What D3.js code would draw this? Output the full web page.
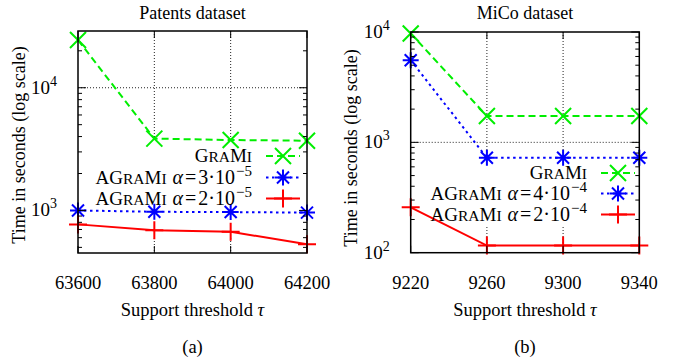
<!DOCTYPE html>
<html>
<head>
<meta charset="utf-8">
<script src="https://cdnjs.cloudflare.com/ajax/libs/d3/7.8.5/d3.min.js"></script>
<style>
  body { margin: 0; background: white; }
</style>
</head>
<body>
<script>
// data
var patentsSupport = [63600, 63800, 64000, 64200];
var patentsGrami = [24500, 3850, 3750, 3700];
var patentsAgramiHi = [1000, 975, 970, 960];   // alpha = 3e-5
var patentsAgramiLo = [770, 690, 670, 530];    // alpha = 2e-5
var patentsAlphas = [["3", "\u22125"], ["2", "\u22125"]];

var micoSupport = [9220, 9260, 9300, 9340];
var micoGrami = [9700, 1730, 1730, 1730];
var micoAgramiHi = [5550, 725, 725, 725];      // alpha = 4e-4
var micoAgramiLo = [258, 116, 116, 116];       // alpha = 2e-4
var micoAlphas = [["4", "\u22124"], ["2", "\u22124"]];

var seriesColors = ["#00ee00", "#0000ff", "#ff0000"];
var seriesDash = ["7,4", "2.5,3.5", null];
var seriesMarks = ["cross", "star", "plus"];

var svg = d3.select("body").append("svg")
  .attr("width", 679)
  .attr("height", 360)
  .attr("font-family", "Liberation Serif")
  .attr("fill", "black");

var markerPath = function (kind, x, y) {
  var p = d3.path();
  var s = 8;
  if (kind == "cross") {
    p.moveTo(x - s, y - s); p.lineTo(x + s, y + s);
    p.moveTo(x - s, y + s); p.lineTo(x + s, y - s);
  } else if (kind == "star") {
    p.moveTo(x - s, y); p.lineTo(x + s, y);
    p.moveTo(x, y - s); p.lineTo(x, y + s);
    p.moveTo(x - s * 0.75, y - s * 0.75); p.lineTo(x + s * 0.75, y + s * 0.75);
    p.moveTo(x - s * 0.75, y + s * 0.75); p.lineTo(x + s * 0.75, y - s * 0.75);
  } else {
    s = 9;
    p.moveTo(x - s, y); p.lineTo(x + s, y);
    p.moveTo(x, y - s); p.lineTo(x, y + s);
  }
  return p.toString();
}

// small caps by hand, like the LaTeX \textsc in the key
var addGrami = function (t) {
  t.append("tspan").text("G");
  t.append("tspan").attr("font-size", 15.5).text("RA");
  t.append("tspan").text("M");
  t.append("tspan").attr("font-size", 15.5).text("I");
}

var drawPanel = function ({
  left, right, top, bottom,
  support, yDomain, series, alphas,
  title, caption, yLabelX, yLabelY,
  legendRight, legendRows, maskTop, maskBottom
  } = {}) {

  var g = svg.append("g");
  var x = d3.scaleLinear().domain(d3.extent(support)).range([left, right]);
  var y = d3.scaleLog().domain(yDomain).range([bottom, top]);

  // grid
  var innerX = support.slice(1, -1);
  g.selectAll(".vgrid").data(innerX).enter().append("line")
    .attr("x1", d => x(d)).attr("x2", d => x(d))
    .attr("y1", top).attr("y2", bottom)
    .attr("stroke", "#222").attr("stroke-width", 1)
    .attr("stroke-dasharray", "1,2");

  var lo = Math.ceil(Math.log10(yDomain[0]));
  var hi = Math.floor(Math.log10(yDomain[1]));
  var majors = d3.range(lo, hi + 1).map(e => Math.pow(10, e));
  g.selectAll(".hgrid").data(majors.filter(v => y(v) > top + 1 && y(v) < bottom - 1)).enter().append("line")
    .attr("x1", left).attr("x2", right)
    .attr("y1", d => y(d)).attr("y2", d => y(d))
    .attr("stroke", "#222").attr("stroke-width", 1)
    .attr("stroke-dasharray", "1,2");

  // opaque key background
  g.append("rect")
    .attr("x", left + 1).attr("y", maskTop)
    .attr("width", right - left - 2).attr("height", maskBottom - maskTop)
    .attr("fill", "white");

  // series
  series.forEach(function (vals, si) {
    var pts = support.map((s, i) => [x(s), y(vals[i])]);
    g.append("path")
      .attr("d", d3.line()(pts))
      .attr("fill", "none")
      .attr("stroke", seriesColors[si])
      .attr("stroke-width", 2)
      .attr("stroke-dasharray", seriesDash[si]);
    g.selectAll(".m" + si).data(pts).enter().append("path")
      .attr("d", d => markerPath(seriesMarks[si], d[0], d[1]))
      .attr("stroke", seriesColors[si])
      .attr("stroke-width", 2)
      .attr("fill", "none");
  });

  // legend
  legendRows.forEach(function (ry, si) {
    var t = g.append("text")
      .attr("x", legendRight).attr("y", ry + 6)
      .attr("text-anchor", "end")
      .attr("font-size", 19);
    if (si > 0) t.append("tspan").text("A");
    addGrami(t);
    if (si > 0) {
      var a = alphas[si - 1];
      t.append("tspan").attr("font-style", "italic").attr("font-size", 20).attr("dx", 6).text("\u03b1");
      t.append("tspan").attr("font-size", 20).attr("dx", 2).text("=");
      t.append("tspan").attr("font-size", 20).attr("dx", 2).text(a[0] + "\u00b710");
      t.append("tspan").attr("font-size", 15).attr("dx", 1).attr("dy", -8).text(a[1]);
    }
    g.append("line")
      .attr("x1", legendRight + 14).attr("x2", legendRight + 48)
      .attr("y1", ry).attr("y2", ry)
      .attr("stroke", seriesColors[si]).attr("stroke-width", 2)
      .attr("stroke-dasharray", seriesDash[si]);
    g.append("path")
      .attr("d", markerPath(seriesMarks[si], legendRight + 31, ry))
      .attr("stroke", seriesColors[si]).attr("stroke-width", 2).attr("fill", "none");
  });

  // ticks
  var minors = [];
  for (var e = lo - 1; e <= hi; e++) {
    for (var k = 2; k <= 9; k++) {
      var v = k * Math.pow(10, e);
      if (v > yDomain[0] && v < yDomain[1]) minors.push(v);
    }
  }
  var tickLines = [];
  majors.forEach(v => { tickLines.push([left, y(v), left + 8, y(v)]); tickLines.push([right, y(v), right - 8, y(v)]); });
  minors.forEach(v => { tickLines.push([left, y(v), left + 4, y(v)]); tickLines.push([right, y(v), right - 4, y(v)]); });
  support.forEach(s => { tickLines.push([x(s), bottom, x(s), bottom - 7]); tickLines.push([x(s), top, x(s), top + 7]); });
  g.selectAll(".tick").data(tickLines).enter().append("line")
    .attr("x1", d => d[0]).attr("y1", d => d[1])
    .attr("x2", d => d[2]).attr("y2", d => d[3])
    .attr("stroke", "black").attr("stroke-width", 1);

  // border
  g.append("rect")
    .attr("x", left).attr("y", top)
    .attr("width", right - left).attr("height", bottom - top)
    .attr("fill", "none").attr("stroke", "black").attr("stroke-width", 1.5);

  // tick labels
  g.selectAll(".xl").data(support).enter().append("text")
    .attr("x", d => x(d)).attr("y", 289)
    .attr("text-anchor", "middle").attr("font-size", 18.5)
    .text(d => d);

  majors.forEach(function (v) {
    var t = g.append("text")
      .attr("x", left - 47).attr("y", y(v) + 6)
      .attr("font-size", 19);
    t.append("tspan").text("10");
    t.append("tspan").attr("font-size", 14).attr("dy", -8).text(Math.round(Math.log10(v)));
  });

  // titles
  g.append("text")
    .attr("x", (left + right) / 2).attr("y", 19)
    .attr("text-anchor", "middle").attr("font-size", 18)
    .text(title);

  var xl = g.append("text")
    .attr("x", (left + right) / 2).attr("y", 316)
    .attr("text-anchor", "middle").attr("font-size", 18.5);
  xl.append("tspan").text("Support threshold ");
  xl.append("tspan").attr("font-style", "italic").text("\u03c4");

  g.append("text")
    .attr("transform", "translate(" + yLabelX + "," + yLabelY + ") rotate(-90)")
    .attr("text-anchor", "middle").attr("font-size", 18)
    .text("Time in seconds (log scale)");

  g.append("text")
    .attr("x", (left + right) / 2).attr("y", 353)
    .attr("text-anchor", "middle").attr("font-size", 18.5)
    .text(caption);
}

drawPanel({
  left: 78, right: 307, top: 31, bottom: 253,
  support: patentsSupport,
  yDomain: [450, 29000],
  series: [patentsGrami, patentsAgramiHi, patentsAgramiLo],
  alphas: patentsAlphas,
  title: "Patents dataset", caption: "(a)",
  yLabelX: 25, yLabelY: 145,
  legendRight: 252, legendRows: [156, 177.5, 198.5],
  maskTop: 141, maskBottom: 238
});

drawPanel({
  left: 410.7, right: 639.3, top: 32, bottom: 252.7,
  support: micoSupport,
  yDomain: [100, 10000],
  series: [micoGrami, micoAgramiHi, micoAgramiLo],
  alphas: micoAlphas,
  title: "MiCo dataset", caption: "(b)",
  yLabelX: 357, yLabelY: 148,
  legendRight: 587, legendRows: [173, 193.5, 214.5],
  maskTop: 161, maskBottom: 227
});
</script>
</body>
</html>
